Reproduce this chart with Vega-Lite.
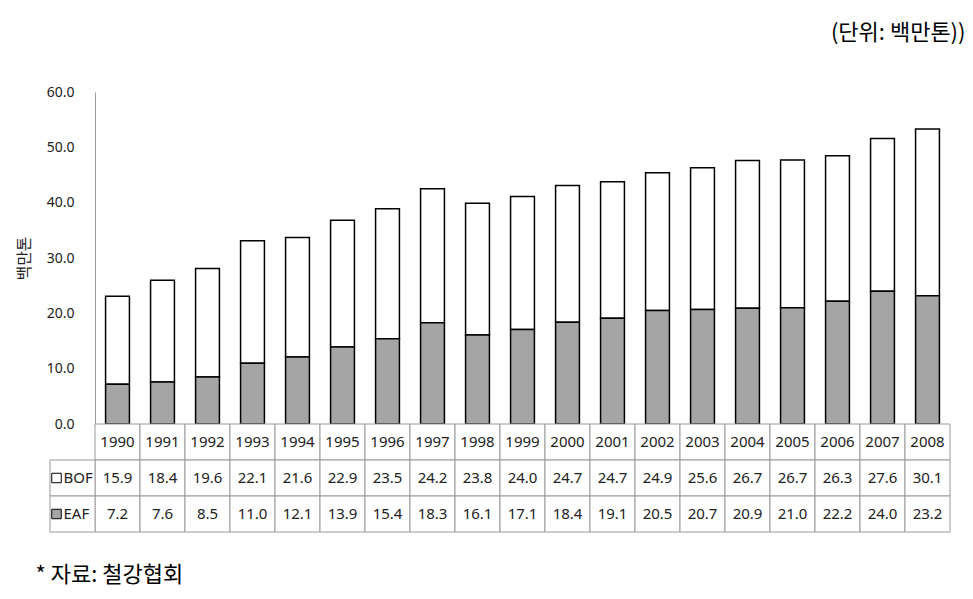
{
  "$schema": "https://vega.github.io/schema/vega-lite/v6.json",
  "padding": {"left": 16, "top": 22, "right": 5, "bottom": 5},
  "background": "white",
  "config": {
    "view": {"stroke": null},
    "font": "Noto Sans",
    "text": {"font": "Noto Sans"}
  },
  "title": {
    "text": "(단위: 백만톤))",
    "anchor": "end",
    "font": "Noto Sans CJK KR",
    "fontSize": 22,
    "fontWeight": "normal",
    "color": "#000",
    "offset": 40,
    "dx": 15
  },
  "datasets": {
    "d": [
      {"year": "1990", "type": "BOF", "value": 15.9}, {"year": "1990", "type": "EAF", "value": 7.2},
      {"year": "1991", "type": "BOF", "value": 18.4}, {"year": "1991", "type": "EAF", "value": 7.6},
      {"year": "1992", "type": "BOF", "value": 19.6}, {"year": "1992", "type": "EAF", "value": 8.5},
      {"year": "1993", "type": "BOF", "value": 22.1}, {"year": "1993", "type": "EAF", "value": 11.0},
      {"year": "1994", "type": "BOF", "value": 21.6}, {"year": "1994", "type": "EAF", "value": 12.1},
      {"year": "1995", "type": "BOF", "value": 22.9}, {"year": "1995", "type": "EAF", "value": 13.9},
      {"year": "1996", "type": "BOF", "value": 23.5}, {"year": "1996", "type": "EAF", "value": 15.4},
      {"year": "1997", "type": "BOF", "value": 24.2}, {"year": "1997", "type": "EAF", "value": 18.3},
      {"year": "1998", "type": "BOF", "value": 23.8}, {"year": "1998", "type": "EAF", "value": 16.1},
      {"year": "1999", "type": "BOF", "value": 24.0}, {"year": "1999", "type": "EAF", "value": 17.1},
      {"year": "2000", "type": "BOF", "value": 24.7}, {"year": "2000", "type": "EAF", "value": 18.4},
      {"year": "2001", "type": "BOF", "value": 24.7}, {"year": "2001", "type": "EAF", "value": 19.1},
      {"year": "2002", "type": "BOF", "value": 24.9}, {"year": "2002", "type": "EAF", "value": 20.5},
      {"year": "2003", "type": "BOF", "value": 25.6}, {"year": "2003", "type": "EAF", "value": 20.7},
      {"year": "2004", "type": "BOF", "value": 26.7}, {"year": "2004", "type": "EAF", "value": 20.9},
      {"year": "2005", "type": "BOF", "value": 26.7}, {"year": "2005", "type": "EAF", "value": 21.0},
      {"year": "2006", "type": "BOF", "value": 26.3}, {"year": "2006", "type": "EAF", "value": 22.2},
      {"year": "2007", "type": "BOF", "value": 27.6}, {"year": "2007", "type": "EAF", "value": 24.0},
      {"year": "2008", "type": "BOF", "value": 30.1}, {"year": "2008", "type": "EAF", "value": 23.2}
    ],
    "leg": [
      {"col": "leg", "type": "BOF"},
      {"col": "leg", "type": "EAF"}
    ]
  },
  "vconcat": [
    {
      "width": 900,
      "height": 332,
      "data": {"name": "d"},
      "mark": {"type": "bar", "stroke": "#000", "strokeWidth": 1.5},
      "encoding": {
        "x": {
          "field": "year", "type": "ordinal",
          "scale": {
            "domain": ["leg", "1990", "1991", "1992", "1993", "1994", "1995", "1996", "1997", "1998", "1999", "2000", "2001", "2002", "2003", "2004", "2005", "2006", "2007", "2008"],
            "paddingInner": 0.47, "paddingOuter": 0.235
          },
          "axis": null
        },
        "y": {
          "field": "value", "type": "quantitative", "stack": "zero",
          "scale": {"domain": [0, 60]},
          "axis": {
            "offset": -45,
            "values": [0, 10, 20, 30, 40, 50, 60],
            "format": ".1f",
            "grid": false,
            "ticks": false,
            "domainColor": "#9a9a9a",
            "labelFontSize": 14,
            "labelColor": "#222",
            "labelPadding": 21,
            "title": "백만톤",
            "titleFont": "Noto Sans CJK KR",
            "titleFontSize": 16,
            "titleFontWeight": "normal",
            "titleColor": "#222",
            "titlePadding": 14
          }
        },
        "fill": {"field": "type", "type": "nominal", "scale": {"domain": ["EAF", "BOF"], "range": ["#a5a5a5", "#ffffff"]}, "legend": null},
        "order": {"field": "type", "sort": "descending"}
      }
    },
    {
      "width": 900,
      "height": 108,
      "title": {
        "text": "* 자료: 철강협회",
        "orient": "bottom",
        "anchor": "start",
        "font": "Noto Sans CJK KR",
        "fontSize": 22,
        "fontWeight": "normal",
        "color": "#000",
        "offset": 32,
        "dx": -14
      },
      "layer": [
        {
          "data": {"name": "d"},
          "transform": [{"filter": "datum.type == 'BOF'"}],
          "mark": {"type": "rect", "fill": "white", "stroke": "#9a9a9a", "strokeWidth": 1},
          "encoding": {
            "x": {
              "field": "year", "type": "ordinal",
              "scale": {
                "domain": ["leg", "1990", "1991", "1992", "1993", "1994", "1995", "1996", "1997", "1998", "1999", "2000", "2001", "2002", "2003", "2004", "2005", "2006", "2007", "2008"],
                "paddingInner": 0, "paddingOuter": 0
              },
              "axis": null
            },
            "y": {"datum": "year", "type": "ordinal", "scale": {"domain": ["year", "BOF", "EAF"], "paddingInner": 0, "paddingOuter": 0}, "axis": null}
          }
        },
        {
          "data": {"name": "d"},
          "mark": {"type": "rect", "fill": "white", "stroke": "#9a9a9a", "strokeWidth": 1},
          "encoding": {
            "x": {"field": "year", "type": "ordinal"},
            "y": {"field": "type", "type": "ordinal"}
          }
        },
        {
          "data": {"name": "leg"},
          "mark": {"type": "rect", "fill": "white", "stroke": "#9a9a9a", "strokeWidth": 1},
          "encoding": {
            "x": {"field": "col", "type": "ordinal"},
            "y": {"field": "type", "type": "ordinal"}
          }
        },
        {
          "data": {"name": "leg"},
          "mark": {"type": "point", "shape": "square", "size": 90, "filled": true, "stroke": "#000", "strokeWidth": 1, "opacity": 1, "xOffset": -16},
          "encoding": {
            "x": {"field": "col", "type": "ordinal"},
            "y": {"field": "type", "type": "ordinal"},
            "fill": {"field": "type", "type": "nominal", "scale": {"domain": ["EAF", "BOF"], "range": ["#a5a5a5", "#ffffff"]}, "legend": null}
          }
        },
        {
          "data": {"name": "leg"},
          "mark": {"type": "text", "align": "left", "dx": -9, "fontSize": 15, "color": "#222"},
          "encoding": {
            "x": {"field": "col", "type": "ordinal"},
            "y": {"field": "type", "type": "ordinal"},
            "text": {"field": "type"}
          }
        },
        {
          "data": {"name": "d"},
          "transform": [{"filter": "datum.type == 'BOF'"}],
          "mark": {"type": "text", "fontSize": 15, "color": "#222"},
          "encoding": {
            "x": {"field": "year", "type": "ordinal"},
            "y": {"datum": "year", "type": "ordinal"},
            "text": {"field": "year"}
          }
        },
        {
          "data": {"name": "d"},
          "mark": {"type": "text", "fontSize": 15, "color": "#222"},
          "encoding": {
            "x": {"field": "year", "type": "ordinal"},
            "y": {"field": "type", "type": "ordinal"},
            "text": {"field": "value", "format": ".1f"}
          }
        }
      ]
    }
  ],
  "spacing": 0,
  "bounds": "flush"
}
